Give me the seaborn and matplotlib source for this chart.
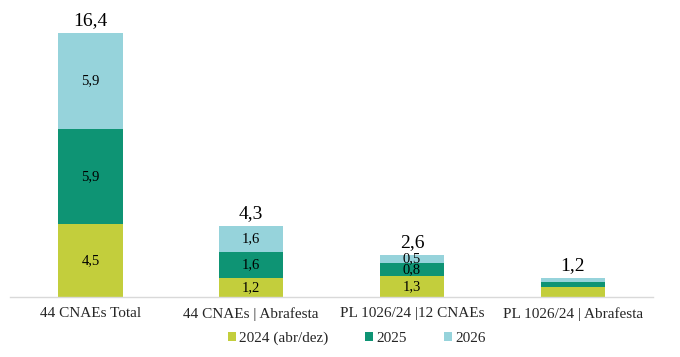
import pandas as pd
import matplotlib
matplotlib.use("Agg")
import matplotlib.pyplot as plt
import seaborn as sns
from matplotlib.patches import Patch

# dados do grafico
categorias = ["44 CNAEs Total", "44 CNAEs | Abrafesta", "PL 1026/24 |12 CNAEs", "PL 1026/24 | Abrafesta"]
v2024 = [4.5, 1.2, 1.3, 0.6]
v2025 = [5.9, 1.6, 0.8, 0.3]
v2026 = [5.9, 1.6, 0.5, 0.3]
totais = [16.4, 4.3, 2.6, 1.2]
mostrar_segmentos = [True, True, True, False]
series = ["2024 (abr/dez)", "2025", "2026"]

cores = {"2024 (abr/dez)": "#C3CE3C", "2025": "#0E9474", "2026": "#96D3DB"}

sns.set_style("white")
plt.rcParams['font.family'] = ['Liberation Serif', 'DejaVu Serif']

df = pd.DataFrame({"cat": categorias, "a": v2024, "b": v2025, "c": v2026})
df["ab"] = df["a"] + df["b"]
df["abc"] = df["ab"] + df["c"]

fig = plt.figure(figsize=(6.8, 3.57), dpi=100)
ax = fig.add_axes([0.0147, 0.168, 0.946, 0.812])

# barras empilhadas: desenha do total para a base
for col, serie in [("abc", "2026"), ("ab", "2025"), ("a", "2024 (abr/dez)")]:
    sns.barplot(data=df, x="cat", y=col, color=cores[serie], width=0.4,
                saturation=1, linewidth=0, edgecolor="none", ax=ax)

# rotulos dos segmentos
for i, row in df.iterrows():
    if mostrar_segmentos[i]:
        for base, val in [(0, row["a"]), (row["a"], row["b"]), (row["ab"], row["c"])]:
            ax.text(i, base + val / 2, f"{val:.1f}".replace(".", ","),
                    ha="center", va="center", fontsize=10.5, color="black")
    ax.annotate(f"{totais[i]:.1f}".replace(".", ","), (i, row["abc"]),
                xytext=(0, 2.5), textcoords="offset points",
                ha="center", va="bottom", fontsize=14, color="black")

ax.set_xlim(-0.5, 3.5)
ax.set_ylim(0, 17.9)
ax.set_xlabel("")
ax.set_ylabel("")
ax.set_yticks([])
ax.tick_params(axis="x", length=0, pad=7, labelsize=11)
for s in ["top", "right", "left"]:
    ax.spines[s].set_visible(False)
ax.spines["bottom"].set_color("#D9D9D9")
ax.spines["bottom"].set_linewidth(1)

handles = [Patch(facecolor=cores[s], edgecolor="none", label=s) for s in series]
fig.legend(handles=handles, loc="center", bbox_to_anchor=(0.525, 0.052), ncol=3,
           frameon=False, fontsize=11, handlelength=0.5, handleheight=0.5,
           handletextpad=0.25, columnspacing=2.4)

plt.savefig("out.png", dpi=100)
